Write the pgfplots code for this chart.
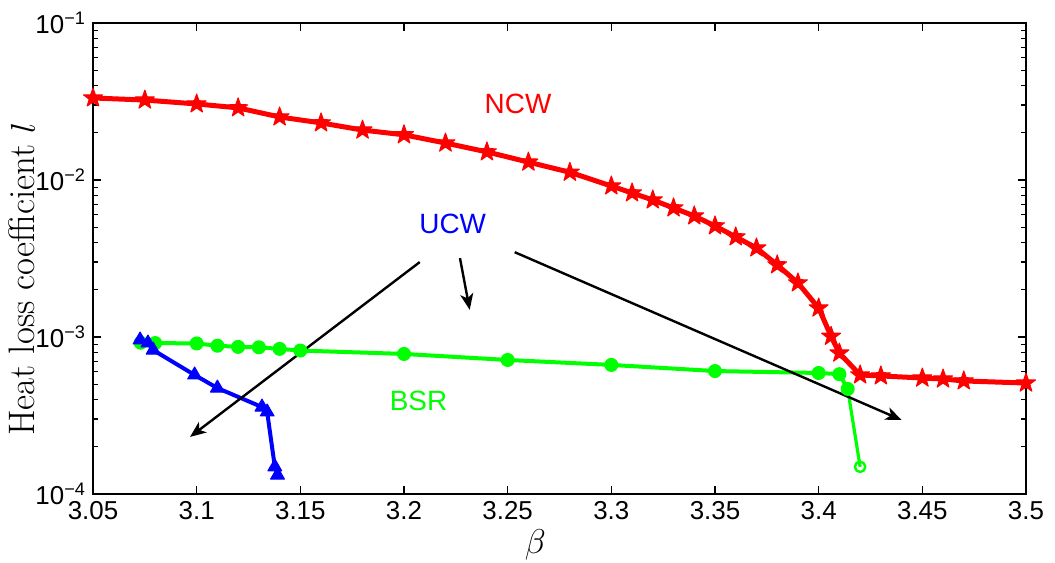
\documentclass[border=0pt]{standalone}
\usepackage{fontspec}
\setsansfont{Liberation Sans}
\usepackage{pgfplots}
\pgfplotsset{compat=1.18}
\usetikzlibrary{arrows.meta}

% filled five-point star, like matlab's pentagram
\pgfdeclareplotmark{pstar}{%
  \pgfpathmoveto{\pgfpointpolar{90}{\pgfplotmarksize}}%
  \pgfpathlineto{\pgfpointpolar{126}{0.4\pgfplotmarksize}}%
  \pgfpathlineto{\pgfpointpolar{162}{\pgfplotmarksize}}%
  \pgfpathlineto{\pgfpointpolar{198}{0.4\pgfplotmarksize}}%
  \pgfpathlineto{\pgfpointpolar{234}{\pgfplotmarksize}}%
  \pgfpathlineto{\pgfpointpolar{270}{0.4\pgfplotmarksize}}%
  \pgfpathlineto{\pgfpointpolar{306}{\pgfplotmarksize}}%
  \pgfpathlineto{\pgfpointpolar{342}{0.4\pgfplotmarksize}}%
  \pgfpathlineto{\pgfpointpolar{18}{\pgfplotmarksize}}%
  \pgfpathlineto{\pgfpointpolar{54}{0.4\pgfplotmarksize}}%
  \pgfpathclose
  \pgfusepathqfillstroke
}

\definecolor{mred}{rgb}{1,0,0}
\definecolor{mgreen}{rgb}{0,1,0}
\definecolor{mblue}{rgb}{0,0,1}

\begin{document}
\begin{tikzpicture}
\begin{axis}[
    scale only axis, width=466.5bp, height=235.5bp,
    ymode=log,
    xmin=3.05, xmax=3.5, ymin=1e-4, ymax=1e-1,
    xtick={3.05,3.1,3.15,3.2,3.25,3.3,3.35,3.4,3.45,3.5},
    xticklabels={3.05,3.1,3.15,3.2,3.25,3.3,3.35,3.4,3.45,3.5},
    ytick={1e-4,1e-3,1e-2,1e-1},
    yticklabels={10\textsuperscript{−4},10\textsuperscript{−3},10\textsuperscript{−2},10\textsuperscript{−1}},
    minor ytick={2e-4,3e-4,4e-4,5e-4,6e-4,7e-4,8e-4,9e-4,2e-3,3e-3,4e-3,5e-3,6e-3,7e-3,8e-3,9e-3,2e-2,3e-2,4e-2,5e-2,6e-2,7e-2,8e-2,9e-2},
    tick label style={font=\fontsize{13}{15}\sffamily},
    tick align=inside,
    major tick length=4bp, minor tick length=2.5bp,
    axis line style={line width=0.7bp},
    every tick/.style={black, line width=0.6bp},
    xlabel={$\beta$},
    ylabel={Heat loss coefficient $l$},
    xlabel style={font=\fontsize{17}{20}\selectfont, at={(rel axis cs:0.474,-0.108)}, anchor=center},
    ylabel style={font=\fontsize{18.5}{22}\selectfont, at={(rel axis cs:-0.076,0.456)}, anchor=center},
    clip=false,
    every axis plot/.append style={line join=round},
  ]
  % BSR
  \addplot[mgreen, line width=2bp, mark=*, mark size=3.2bp, mark options={fill=mgreen, line width=0.6bp}] coordinates {
    (3.073,9.2e-4) (3.08,9.15e-4) (3.1,9.1e-4) (3.11,8.8e-4) (3.12,8.65e-4) (3.13,8.6e-4)
    (3.14,8.4e-4) (3.15,8.2e-4) (3.2,7.8e-4) (3.25,7.14e-4) (3.3,6.64e-4) (3.35,6.07e-4)
    (3.4,5.9e-4) (3.41,5.8e-4) (3.414,4.67e-4)
  };
  \addplot[mgreen, line width=1.6bp, no marks] coordinates {(3.414,4.67e-4) (3.42,1.49e-4)};
  \addplot[mgreen, only marks, mark=o, mark size=2.6bp, mark options={line width=1.2bp, fill=white}] coordinates {(3.42,1.49e-4)};
  % NCW
  \addplot[mred, line width=2.5bp, mark=pstar, mark size=5bp, mark options={fill=mred, line width=0.5bp}] coordinates {
    (3.05,0.0333) (3.075,0.0323) (3.1,0.0305) (3.12,0.0288) (3.14,0.0252) (3.16,0.0231)
    (3.18,0.0208) (3.2,0.0194) (3.22,0.0172) (3.24,0.0151) (3.26,0.0130) (3.28,0.0112)
    (3.3,0.00916) (3.31,0.00827) (3.32,0.00746) (3.33,0.00664) (3.34,0.0059) (3.35,0.0051)
    (3.36,0.00434) (3.37,0.00369) (3.38,0.00288) (3.39,0.00221) (3.40,0.00153)
    (3.406,0.00101) (3.41,7.9e-4) (3.42,5.73e-4) (3.43,5.65e-4) (3.45,5.48e-4)
    (3.46,5.4e-4) (3.47,5.25e-4) (3.5,5.09e-4)
  };
  % UCW
  \addplot[mblue, line width=2bp, mark=triangle*, mark size=4bp, mark options={fill=mblue, line width=0.5bp}] coordinates {
    (3.0727,9.57e-4) (3.0765,9.16e-4) (3.079,8.26e-4) (3.099,5.73e-4) (3.11,4.73e-4)
    (3.1315,3.58e-4) (3.134,3.33e-4) (3.1377,1.49e-4) (3.139,1.32e-4)
  };

  \node[text=mred, font=\fontsize{14}{16}\sffamily] at (axis cs:3.255,0.0305) {NCW};
  \node[text=mblue, font=\fontsize{14}{16}\sffamily] at (axis cs:3.2235,5.25e-3) {UCW};
  \node[text=mgreen, font=\fontsize{14}{16}\sffamily] at (axis cs:3.207,3.9e-4) {BSR};

  \draw[-{Stealth[length=8bp,width=6.5bp,inset=2.2bp]}, line width=1.2bp] (axis cs:3.2076,3.0e-3) -- (axis cs:3.0968,2.31e-4);
  \draw[-{Stealth[length=8bp,width=6.5bp,inset=2.2bp]}, line width=1.2bp] (axis cs:3.227,3.18e-3) -- (axis cs:3.2317,1.49e-3);
  \draw[-{Stealth[length=8bp,width=6.5bp,inset=2.2bp]}, line width=1.2bp] (axis cs:3.2534,3.47e-3) -- (axis cs:3.44,2.96e-4);
\end{axis}
\pgfresetboundingbox
\path (-46.5bp,-34.5bp) rectangle (481bp,247bp);
\end{tikzpicture}
\end{document}
